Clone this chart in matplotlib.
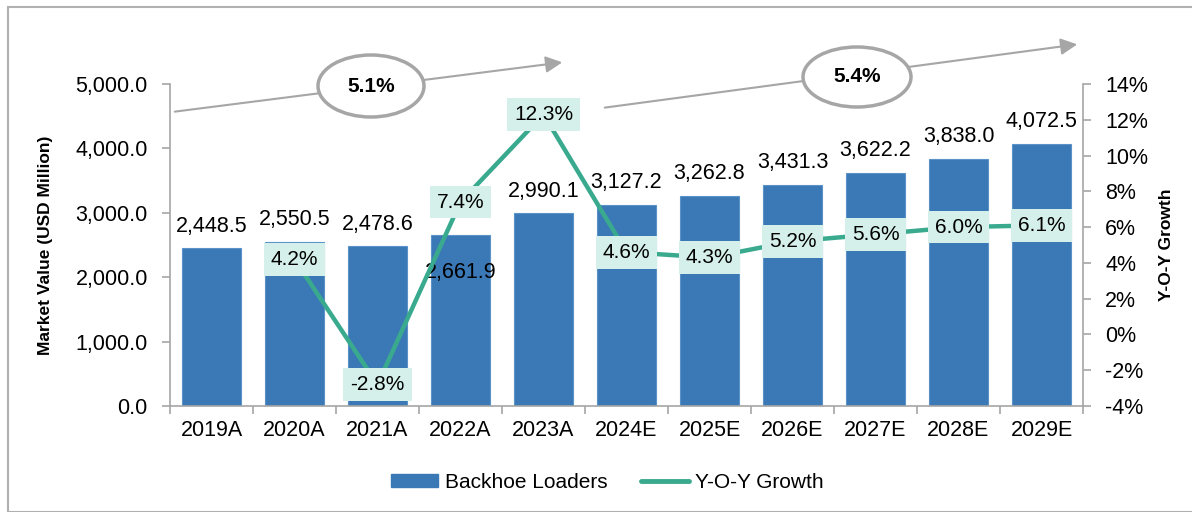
import matplotlib
matplotlib.use("Agg")
import matplotlib.pyplot as plt
from matplotlib.patches import Ellipse, Rectangle, FancyArrowPatch
from matplotlib.lines import Line2D
import numpy as np

categories = ["2019A", "2020A", "2021A", "2022A", "2023A", "2024E", "2025E",
              "2026E", "2027E", "2028E", "2029E"]
market_value = [2448.5, 2550.5, 2478.6, 2661.9, 2990.1, 3127.2, 3262.8,
                3431.3, 3622.2, 3838.0, 4072.5]
growth_years = ["2020A", "2021A", "2022A", "2023A", "2024E", "2025E",
                "2026E", "2027E", "2028E", "2029E"]
yoy_growth = [4.2, -2.8, 7.4, 12.3, 4.6, 4.3, 5.2, 5.6, 6.0, 6.1]
cagr_labels = ["5.1%", "5.4%"]
left_ticks = [0, 1000, 2000, 3000, 4000, 5000]
right_ticks = [-4, -2, 0, 2, 4, 6, 8, 10, 12, 14]

BAR = "#3a78b6"
LINE = "#3aaa8f"
BOX = "#d5f0ea"
GRAY = "#a6a6a6"

plt.rcParams['font.family'] = ['Liberation Sans', 'DejaVu Sans']
NARROW = ['Liberation Sans Narrow', 'Liberation Sans', 'DejaVu Sans']
FS = 15.5

W, H = 1192, 512
fig = plt.figure(figsize=(W / 100, H / 100), dpi=100)

# outer frame
fig.patches.append(Rectangle((8 / W, 0), 1.2, 1 - 7 / H, transform=fig.transFigure,
                             fill=False, edgecolor="#b0b0b0", linewidth=1.5))

ax = fig.add_axes([170 / W, 1 - 406 / H, (1083 - 170) / W, (406 - 84) / H])
x = np.arange(len(categories))
ax.bar(x, market_value, width=0.72, color=BAR, edgecolor="#5b93c9", linewidth=0.8, zorder=2)
ax.set_xlim(-0.5, len(categories) - 0.5)
ax.set_ylim(0, 5000)
ax.set_yticks(left_ticks)
ax.set_yticklabels([f"{v:,.1f}" for v in left_ticks], fontsize=FS)
ax.set_xticks(x)
ax.set_xticklabels(categories, fontsize=FS)
ax.set_xticks(np.arange(-0.5, len(categories)), minor=True)
ax.tick_params(axis='x', which='major', length=0, pad=10)
ax.tick_params(axis='x', which='minor', length=6, color=GRAY, width=1.2)
ax.tick_params(axis='y', length=6, color=GRAY, width=1.2, pad=10)
for s in ["top", "right"]:
    ax.spines[s].set_visible(False)
for s in ["left", "bottom"]:
    ax.spines[s].set_color(GRAY)
    ax.spines[s].set_linewidth(1.2)
ax.set_ylabel("Market Value (USD Million)", family=NARROW, fontweight='bold',
              fontsize=12.5, labelpad=16)

# bar labels
for i, v in enumerate(market_value):
    dy = -27 if categories[i] == "2022A" else 16
    ax.annotate(f"{v:,.1f}", (i, v), xytext=(0, dy), textcoords="offset points",
                ha="center", va="center", fontsize=FS, zorder=3)

ax2 = ax.twinx()
gx = [categories.index(c) for c in growth_years]
ax2.plot(gx, yoy_growth, color=LINE, linewidth=3.2, solid_capstyle='round', zorder=4)
ax2.set_ylim(-4, 14)
ax2.set_yticks(right_ticks)
ax2.set_yticklabels([f"{v}%" for v in right_ticks], fontsize=FS)
ax2.tick_params(axis='y', length=6, color=GRAY, width=1.2, pad=10)
for s in ["top", "left", "bottom"]:
    ax2.spines[s].set_visible(False)
ax2.spines["right"].set_color(GRAY)
ax2.spines["right"].set_linewidth(1.2)
ax2.set_ylabel("Y-O-Y Growth", family=NARROW, fontweight='bold', fontsize=12.5,
               labelpad=8, rotation=90)
for xi, g in zip(gx, yoy_growth):
    ax2.text(xi, g, f"{g:.1f}%", ha="center", va="center", fontsize=15, zorder=5,
             bbox=dict(boxstyle="square,pad=0.33", facecolor=BOX, edgecolor="none"))

# CAGR arrows
def px(xp, yp):
    return (xp / W, 1 - yp / H)

arrows = [((172, 112), (565, 62), (371, 86), 106, 62),
          ((602, 108), (1080, 44), (857, 77), 108, 60)]
for (s, e, c, ew, eh), lab in zip(arrows, cagr_labels):
    fig.patches.append(FancyArrowPatch(px(*s), px(*e), transform=fig.transFigure,
                                       arrowstyle="-|>,head_length=10,head_width=5",
                                       color=GRAY, linewidth=1.5, zorder=6))
    fig.patches.append(Ellipse(px(*c), ew / W, eh / H, transform=fig.transFigure,
                               facecolor="white", edgecolor=GRAY, linewidth=2.5, zorder=7))
    fig.text(*px(*c), lab, ha="center", va="center", fontsize=15, fontweight="bold",
             family=NARROW, zorder=8)

# legend
handles = [Rectangle((0, 0), 1, 1, color=BAR),
           Line2D([0], [0], color=LINE, linewidth=3.5, solid_capstyle='round')]
fig.legend(handles, ["Backhoe Loaders", "Y-O-Y Growth"], loc="center",
           bbox_to_anchor=(607 / W, 1 - 482 / H), ncol=2, frameon=False, fontsize=15,
           handlelength=2.3, handleheight=0.6, columnspacing=1.6, handletextpad=0.3)

fig.savefig("out.png", dpi=100)
